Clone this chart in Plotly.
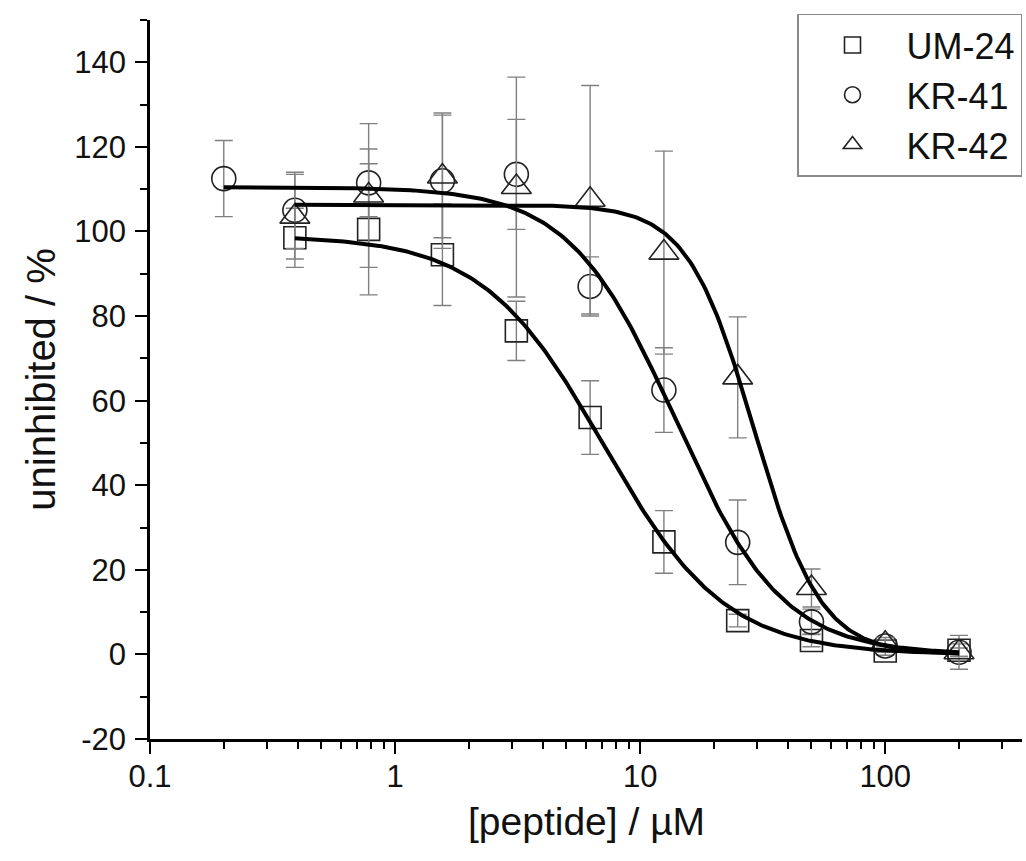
import numpy as np
import plotly.graph_objects as go

# ---- data ----
conc_um24 = [0.39, 0.78, 1.56, 3.125, 6.25, 12.5, 25, 50, 100, 200]
val_um24 = [98.5, 100.5, 94.5, 76.5, 56, 26.6, 8, 3.3, 0.8, 1]
err_um24 = [7, 15.5, 12, 7, 8.7, 7.4, 1.5, 1.5, 1, 1.5]

conc_kr41 = [0.2, 0.39, 0.78, 1.56, 3.125, 6.25, 12.5, 25, 50, 100, 200]
val_kr41 = [112.5, 105, 111.5, 112, 113.5, 87, 62.5, 26.5, 7.7, 2, 0.5]
err_kr41 = [9, 9, 8, 16, 13, 7, 10, 10, 3, 1.5, 1]

conc_kr42 = [0.39, 0.78, 1.56, 3.125, 6.25, 12.5, 25, 50, 100, 200]
val_kr42 = [103.5, 108.5, 113, 110.5, 107.5, 95, 65.5, 15.7, 2.5, 0.5]
err_kr42 = [10, 17, 14.5, 26, 27, 24, 14.3, 4.5, 1.5, 4]

# dose-response fit parameters (top, bottom, IC50, Hill slope, x-start, x-end)
fit_um24 = [99.0, 0.0, 7.1, 1.75, 0.39, 200]
fit_kr41 = [110.5, 0.0, 14.0, 2.0, 0.2, 200]
fit_kr42 = [106.3, 0.0, 29.2, 3.2, 0.39, 200]

names = ["UM-24", "KR-41", "KR-42"]
symbols = ["square-open", "circle-open", "triangle-up-open"]
sizes = [22, 24, 26]

x_ticks = [0.1, 1, 10, 100]
x_ticktext = ["0.1", "1", "10", "100"]
y_ticks = [-20, 0, 20, 40, 60, 80, 100, 120, 140]
y_ticktext = ["-20", "0", "20", "40", "60", "80", "100", "120", "140"]

x_title = "[peptide] / µM"
y_title = "uninhibited / %"

FONT = "Liberation Sans, Arial, sans-serif"
TXT = "#111111"

fig = go.Figure()

series = [
    (conc_um24, val_um24, err_um24),
    (conc_kr41, val_kr41, err_kr41),
    (conc_kr42, val_kr42, err_kr42),
]
for (cx, cy, ce), name, sym, sz in zip(series, names, symbols, sizes):
    fig.add_trace(go.Scatter(
        x=cx, y=cy, mode="markers", name=name,
        marker=dict(symbol=sym, size=sz, color="#222222", line=dict(width=1.6)),
        error_y=dict(type="data", array=ce, visible=True, color="#808080",
                     thickness=1.4, width=9),
    ))

for p in [fit_um24, fit_kr41, fit_kr42]:
    top, bot, ic50, hill, x0, x1 = p
    xs = np.logspace(np.log10(x0), np.log10(x1), 300)
    ys = bot + (top - bot) / (1 + (xs / ic50) ** hill)
    fig.add_trace(go.Scatter(x=xs, y=ys, mode="lines", showlegend=False,
                             line=dict(color="black", width=4), hoverinfo="skip"))

fig.update_layout(
    width=1026, height=861,
    margin=dict(l=150, r=4, t=20, b=122, autoexpand=False),
    paper_bgcolor="white", plot_bgcolor="white",
    font=dict(family=FONT, color=TXT),
    showlegend=True,
    legend=dict(
        x=1, xanchor="right", y=1.009, yanchor="top",
        bordercolor="#8a8a8a", borderwidth=1.5, bgcolor="white",
        font=dict(size=36, family=FONT, color=TXT),
        itemwidth=98, tracegroupgap=0,
    ),
    xaxis=dict(
        type="log", range=[-1, 2.558], automargin=False,
        tickvals=x_ticks, ticktext=x_ticktext,
        ticks="outside", ticklen=12, tickwidth=2, tickcolor="black",
        showline=True, linecolor="black", linewidth=2.5,
        showgrid=False, zeroline=False, ticklabelstandoff=-4,
        tickfont=dict(size=31, family=FONT, color=TXT),
        minor=dict(ticks="outside", ticklen=7, tickwidth=2, tickcolor="black",
                   dtick="D1", showgrid=False),
    ),
    yaxis=dict(
        range=[-20, 150], automargin=False,
        tickvals=y_ticks, ticktext=y_ticktext,
        ticks="outside", ticklen=12, tickwidth=2, tickcolor="black",
        showline=True, linecolor="black", linewidth=2.5,
        showgrid=False, zeroline=False, ticklabelstandoff=3,
        tickfont=dict(size=31, family=FONT, color=TXT),
        minor=dict(ticks="outside", ticklen=7, tickwidth=2, tickcolor="black",
                   dtick=10, showgrid=False),
    ),
    annotations=[
        dict(text=x_title, xref="paper", yref="paper", x=0.5, y=-0.115,
             xanchor="center", yanchor="middle", showarrow=False,
             font=dict(size=39, family=FONT, color=TXT)),
        dict(text=y_title, xref="paper", yref="paper", x=-0.126, y=0.5, textangle=-90,
             xanchor="center", yanchor="middle", showarrow=False,
             font=dict(size=40, family=FONT, color=TXT)),
    ],
)

fig.write_html(
    "out.html",
    config={"displayModeBar": False},
    post_script="document.body.style.margin='0';document.body.style.overflow='hidden';",
)
